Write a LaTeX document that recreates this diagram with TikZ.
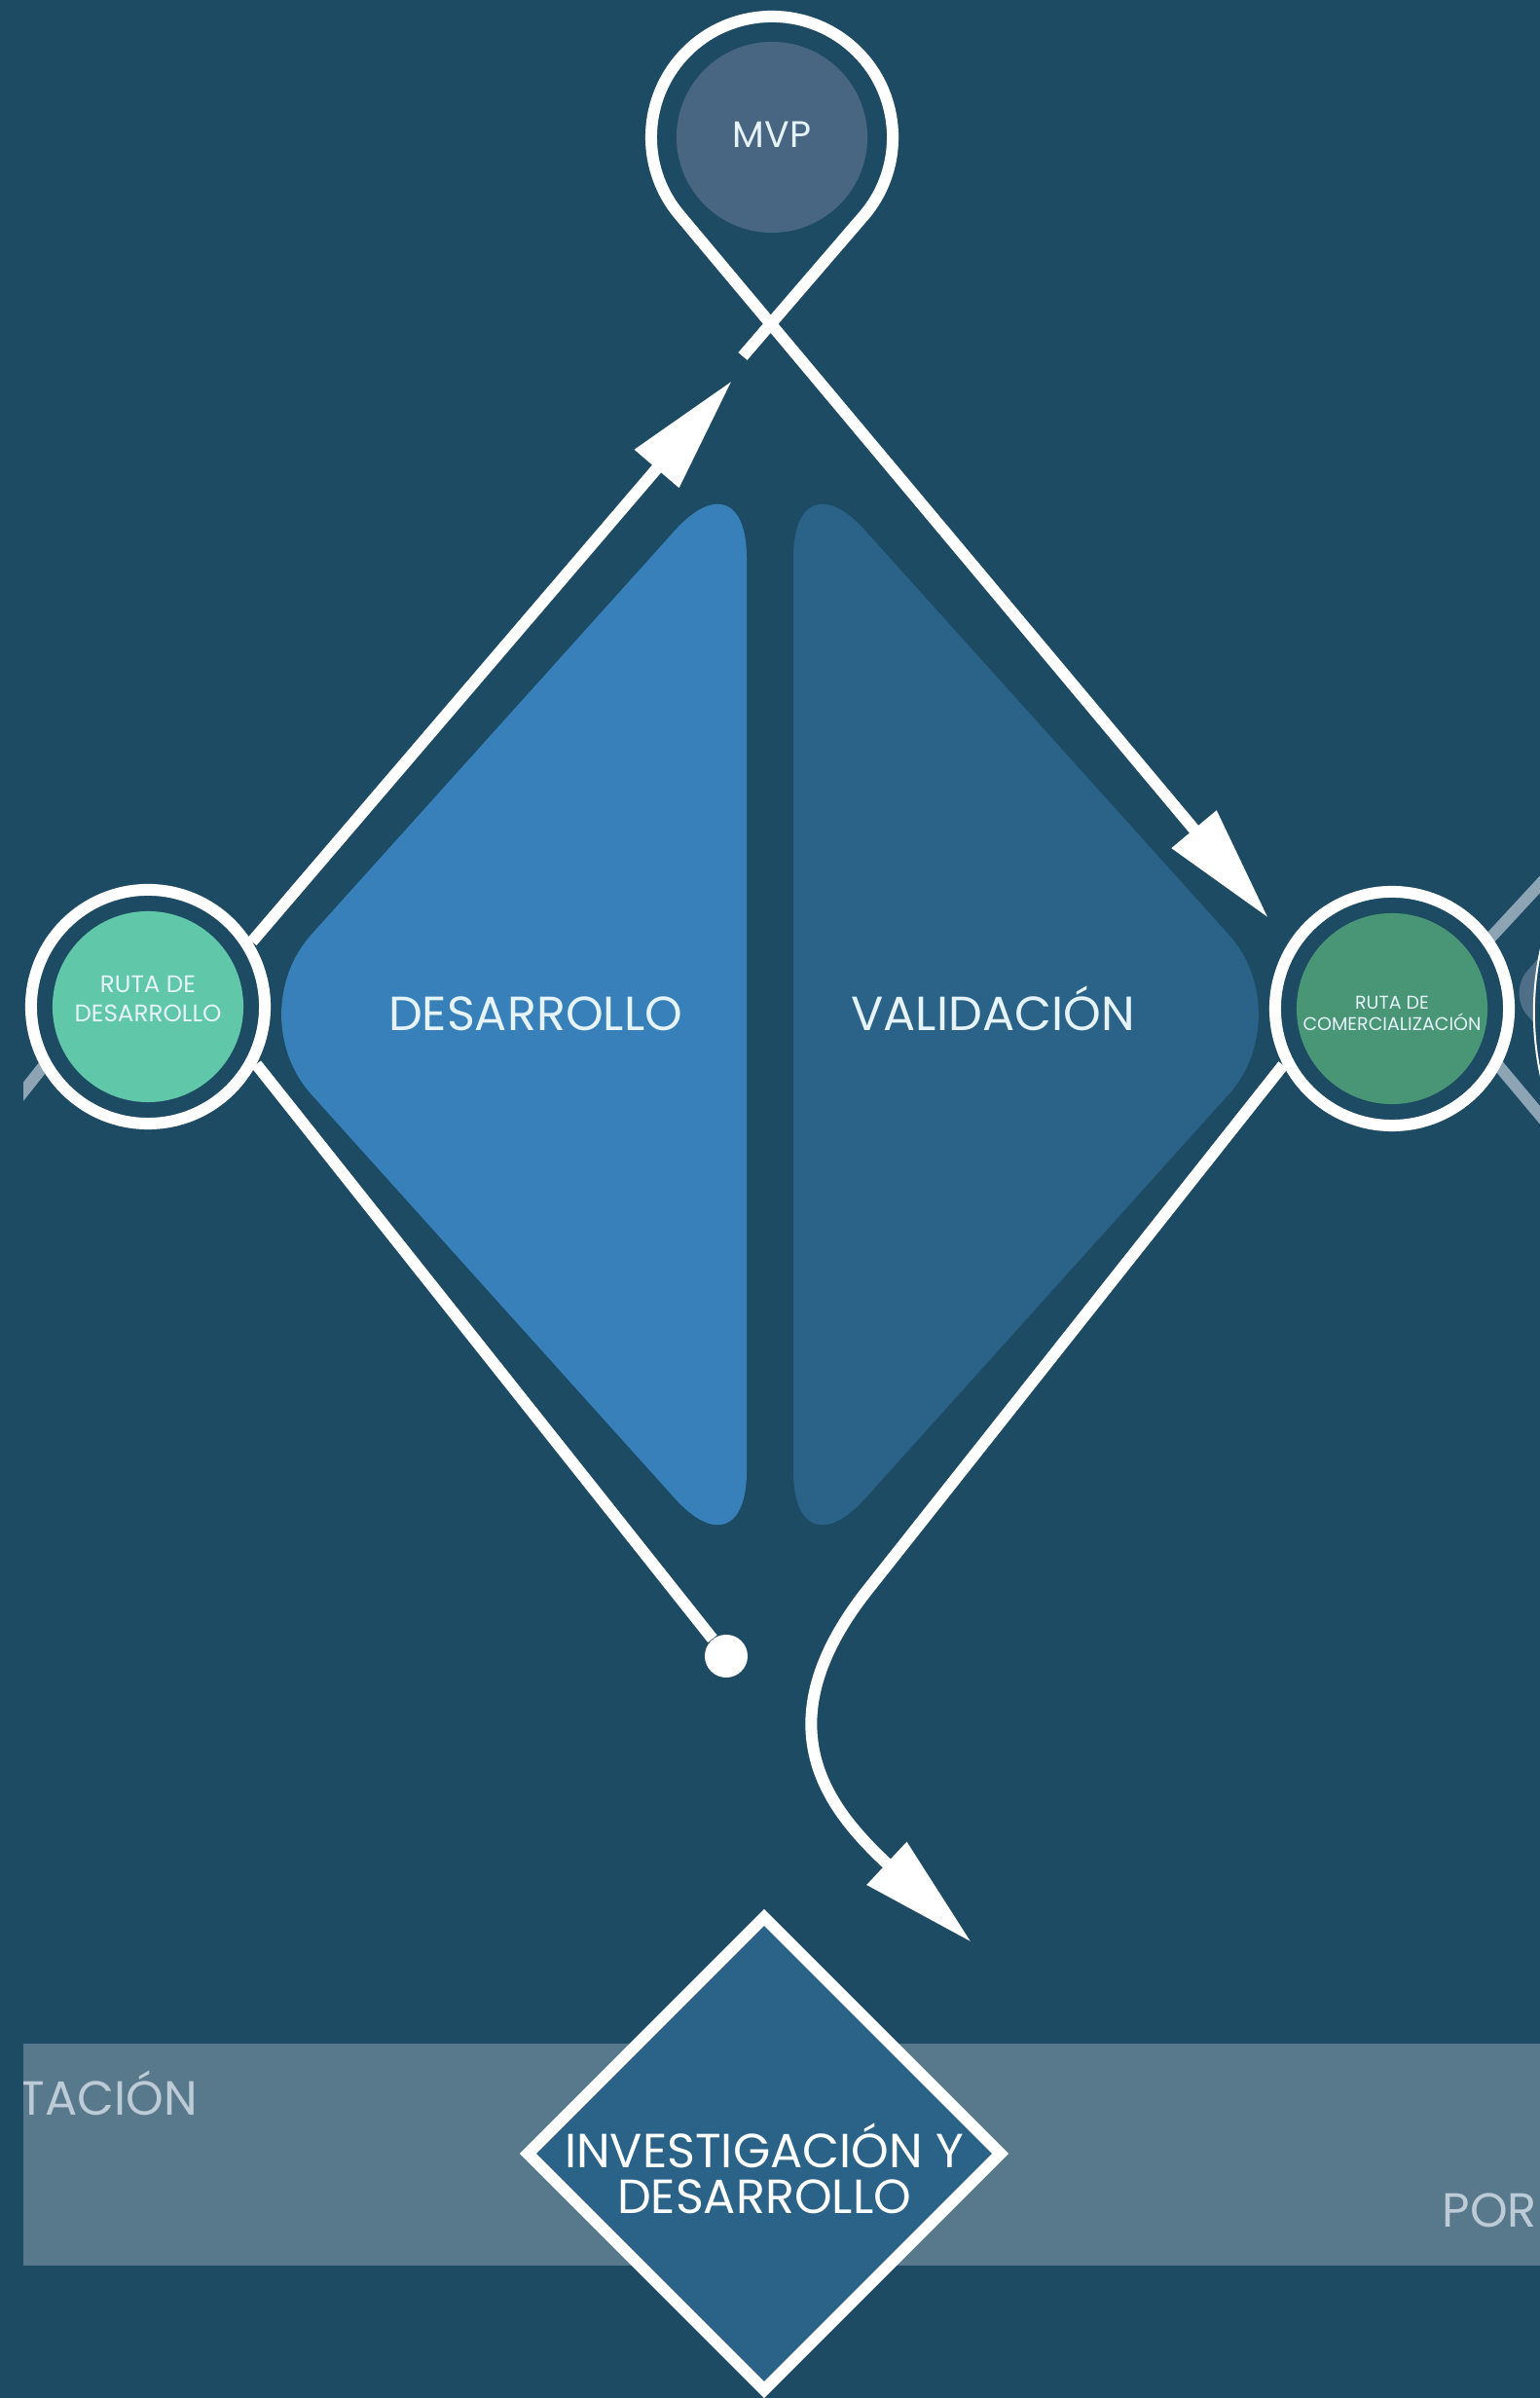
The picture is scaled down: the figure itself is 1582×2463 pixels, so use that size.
\documentclass[tikz,border=0pt]{standalone}
\usepackage{fontspec}
\setmainfont{Poppins}
\usepackage{tikz}
\usetikzlibrary{calc}
\usetikzlibrary{arrows.meta}
\usetikzlibrary{shapes.geometric}
\definecolor{bgblue}{HTML}{1E4B64}
\definecolor{desblue}{HTML}{3780BA}
\definecolor{valblue}{HTML}{2A6387}
\definecolor{mvpgray}{HTML}{486682}
\definecolor{mint}{HTML}{60C8A8}
\definecolor{sage}{HTML}{489676}
\definecolor{bandgray}{HTML}{58798C}
\definecolor{fadeline}{HTML}{8CA4B4}
\definecolor{fadetext}{HTML}{BCCBD5}
\definecolor{tipgray}{HTML}{4F6F88}
\definecolor{labelwhite}{HTML}{E6F4FA}
\tikzset{
  path line/.style={draw=white, line width=0.12cm},
  arrow line/.style={path line, -{Triangle[length=1.19cm,width=0.57cm]}},
  fade line/.style={draw=fadeline, line width=0.12cm},
  ring/.style={draw=white, line width=0.12cm},
  stop/.style={circle, inner sep=0pt, minimum size=1.96cm},
  stop label/.style={align=center, text=labelwhite, inner sep=0pt},
  half/.style={rounded corners=1.1cm},
  big label/.style={text=labelwhite, align=center, font=\fontsize{14}{13.4}\selectfont},
  fade label/.style={text=fadetext, inner sep=0pt, font=\fontsize{14}{14}\selectfont},
}

\begin{document}
\begin{tikzpicture}[x=0.01cm, y=0.01cm]
\fill[bgblue] (0,0) rectangle (1582,2463);
\useasboundingbox (0,0) rectangle (1582,2463);
\begin{scope}
\clip (24,0) rectangle (1582,2463);
% band behind the bottom diamond
\fill[bandgray] (24,136) rectangle (1582,364);
\node[fade label, anchor=base west] (impl) at (19,290) {TACIÓN};
\node[fade label, anchor=base west] (port) at (1481,175) {POR};
% the two halves
\fill[desblue, half] (767,1421) -- (767,2000) -- (246,1421) -- (767,842) -- cycle;
\fill[valblue, half] (815,1421) -- (815,2000) -- (1336,1421) -- (815,842) -- cycle;
\node[big label, anchor=base] (des) at (550,1404) {DESARROLLO};
\node[big label, anchor=base] (val) at (1020,1404) {VALIDACIÓN};
% next diagram, cut at the edge
\fill[tipgray, rounded corners=0.3cm] (1650,1558) -- (1549,1443) -- (1650,1328);
\draw[white, fill=bgblue, line width=0.02cm] (1879,1423) circle[radius=3.03cm];
% stops
\node[stop, fill=mint] (rutaDes) at (152,1429) {};
\node[stop, fill=sage] (rutaCom) at (1430,1427) {};
\node[stop, fill=mvpgray] (mvp) at (793,2322) {};
\node[stop label, font=\fontsize{7}{8.5}\selectfont] (rutaDesText) at (152,1437) {RUTA DE\\DESARROLLO};
\node[stop label, font=\fontsize{5.4}{6.2}\selectfont] (rutaComText) at (1430,1422) {RUTA DE\\COMERCIALIZACIÓN};
\node[stop label, font=\fontsize{10.8}{12}\selectfont] (mvpText) at (793,2325) {MVP};
\draw[fade line] ($(rutaDes)+(209:1.2cm)$) -- ++(231.6:0.8cm);
\draw[fade line] ($(rutaCom)+(35.3:1.2cm)$) -- ++(47.2:0.9cm);
\draw[fade line] ($(rutaCom)+(-27.4:1.2cm)$) -- ++(-50:0.9cm);
\draw[ring] (rutaDes.center) circle[radius=1.2cm];
\draw[ring] (rutaCom.center) circle[radius=1.2cm];
% connectors
\coordinate (desTip) at (752,2072);
\coordinate (stubEnd) at (763,2097);
\coordinate (comTip) at (1303,1520);
\coordinate (mvpR) at ($(mvp)+(-40.2:1.24cm)$);
\coordinate (comBend) at (892,831);
\coordinate (invTip) at (998,468);
\node[circle, fill=white, inner sep=0pt, minimum size=0.44cm] (endDot) at (746,762) {};
\draw[arrow line] ($(rutaDes)+(32:1.26cm)$) -- (desTip);
\draw[arrow line] (stubEnd) -- (mvpR) arc[start angle=-40.2, end angle=220.2, radius=1.24cm] -- (comTip);
\draw[path line] ($(rutaDes)+(-28:1.26cm)$) -- (endDot);
\draw[arrow line] ($(rutaCom)+(207.4:1.26cm)$) -- (comBend) .. controls (780,690) and (852,604) .. (invTip);
% bottom diamond
\node[diamond, aspect=1, draw=white, line width=0.12cm, fill=valblue, inner sep=0pt,
  minimum size=4.9cm] (invDes) at (785,251) {};
\node[big label, text=white] (invText) at (785,236) {INVESTIGACIÓN Y\\DESARROLLO};
\end{scope}
\end{tikzpicture}
\end{document}
